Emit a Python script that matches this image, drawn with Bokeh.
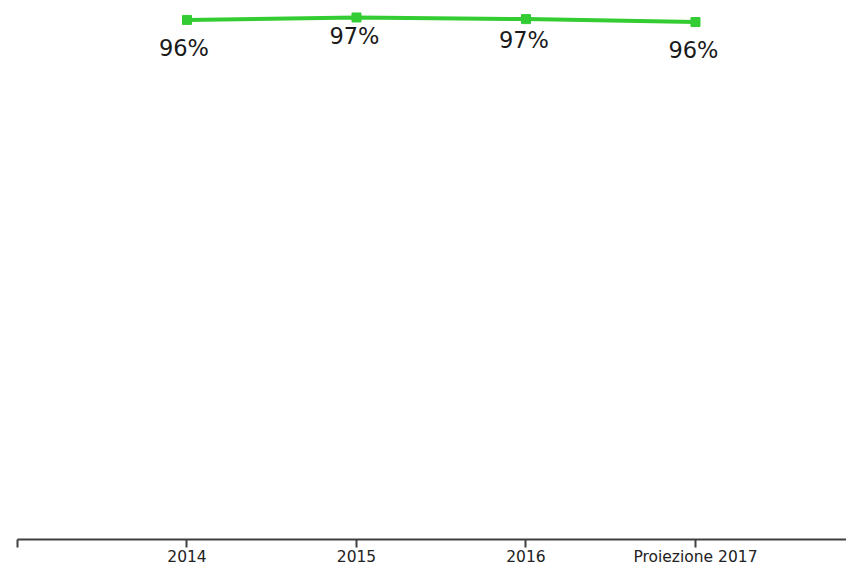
from bokeh.plotting import figure
from bokeh.models import ColumnDataSource, Range1d, FixedTicker
from bokeh.core.properties import value
from bokeh.embed import file_html
from bokeh.resources import INLINE

categories = ["2014", "2015", "2016", "Proiezione 2017"]
values = [96.4, 96.85, 96.55, 96.0]
labels = [f"{v:.0f}%" for v in values]

# style: label placement offsets (screen px)
label_dx = [-3, -2, -2, -2]
label_dy = [28, 19, 21, 28]

idx = list(range(len(categories)))
src = ColumnDataSource(dict(x=idx, y=values, lab=labels, dx=label_dx, dy=label_dy))

p = figure(width=846, height=568, output_backend="svg", toolbar_location=None,
           x_range=Range1d(-1, 3.891), y_range=Range1d(0, 100),
           y_axis_location=None, min_border_left=17, min_border_right=0,
           min_border_top=0, min_border_bottom=0)
p.outline_line_color = None
p.grid.visible = False
p.background_fill_color = "white"
p.border_fill_color = "white"

p.line("x", "y", source=src, line_color="#33cc33", line_width=4)
p.scatter("x", "y", source=src, marker="square", size=9, fill_color="#33cc33", line_color="#33cc33")
p.text("x", "y", text="lab", source=src, x_offset="dx", y_offset="dy",
       text_align="center", text_baseline="middle", text_color="#1a1a1a",
       text_font=value("DejaVu Sans"), text_font_size="22.5px")

ax = p.xaxis[0]
ax.ticker = FixedTicker(ticks=[-1] + idx)
ax.major_label_overrides = {-1: "", **{i: c for i, c in zip(idx, categories)}}
ax.axis_line_color = "#404040"
ax.axis_line_width = 2
ax.major_tick_line_color = "#404040"
ax.major_tick_line_width = 2
ax.major_tick_out = 8
ax.major_tick_in = 0
ax.minor_tick_line_color = None
ax.major_label_standoff = 0
ax.major_label_text_font = "DejaVu Sans"
ax.major_label_text_font_size = "15.5px"
ax.major_label_text_color = "#222222"

open("out.html", "w").write(file_html(p, INLINE))
